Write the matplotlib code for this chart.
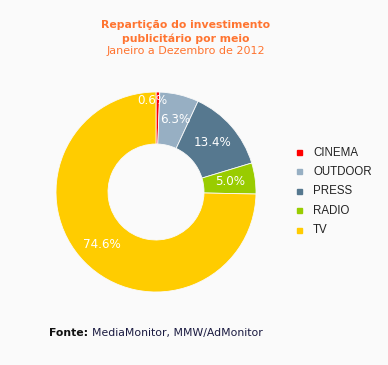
import matplotlib
matplotlib.use("Agg")
import matplotlib.pyplot as plt
import numpy as np

categories = ["CINEMA", "OUTDOOR", "PRESS", "RADIO", "TV"]
values = [0.6, 6.3, 13.4, 5.0, 74.6]
labels = ["0.6%", "6.3%", "13.4%", "5.0%", "74.6%"]
colors = ["#ff0000", "#97afc3", "#56788f", "#99cc00", "#ffcc00"]

title1a = "Repartição do investimento"
title1b = "publicitário por meio"
title2 = "Janeiro a Dezembro de 2012"

W, H = 388, 365
fig = plt.figure(figsize=(W / 100, H / 100), dpi=100)
bg = "#fafafa"
fig.patch.set_facecolor(bg)

cx, cy, R = 156, 192, 100
ax = fig.add_axes([(cx - R) / W, (H - cy - R) / H, 2 * R / W, 2 * R / H])
ax.set_facecolor(bg)
wedges, _ = ax.pie(values, colors=colors, startangle=90, counterclock=False,
                   radius=1.0, wedgeprops=dict(width=0.52, linewidth=0.6, edgecolor=bg))
ax.set_xlim(-1, 1)
ax.set_ylim(-1, 1)
ax.set_aspect("equal")
ax.axis("off")

# labels at mid-angle of each wedge
dist = [0.92, 0.755, 0.755, 0.75, 0.755]
ang_shift = [3.6, -1.5, 0, 0, 0]
for w, lab, d, s in zip(wedges, labels, dist, ang_shift):
    a = np.deg2rad((w.theta1 + w.theta2) / 2 + s)
    ax.text(d * np.cos(a), d * np.sin(a), lab, color="white", fontsize=8.6,
            ha="center", va="center", family="DejaVu Sans")

orange = "#ff7430"
fig.text(186 / W, 1 - 25 / H, title1a, color=orange, fontsize=7.8, fontweight="bold",
         ha="center", va="center", family="DejaVu Sans")
fig.text(186 / W, 1 - 39 / H, title1b, color=orange, fontsize=7.8, fontweight="bold",
         ha="center", va="center", family="DejaVu Sans")
fig.text(185.5 / W, 1 - 50.5 / H, title2, color=orange, fontsize=8,
         ha="center", va="center", family="DejaVu Sans")

# legend
for i, (c, name) in enumerate(zip(colors, categories)):
    y = 152.5 + i * 19.4
    fig.patches.append(plt.Rectangle(((299 - 2.5) / W, 1 - (y + 2.5) / H), 5 / W, 5 / H,
                                     transform=fig.transFigure, color=c, figure=fig))
    fig.text(313 / W, 1 - y / H, name, fontsize=8.3, color="#222222",
             ha="left", va="center", family="Liberation Sans")

fig.text(49 / W, 1 - 333 / H, "Fonte:", fontsize=7.8, fontweight="bold",
         color="#111111", ha="left", va="center", family="DejaVu Sans")
fig.text(92 / W, 1 - 333 / H, "MediaMonitor, MMW/AdMonitor", fontsize=7.8,
         color="#1a1a40", ha="left", va="center", family="DejaVu Sans")

fig.savefig("out.png", dpi=100, facecolor=bg)
